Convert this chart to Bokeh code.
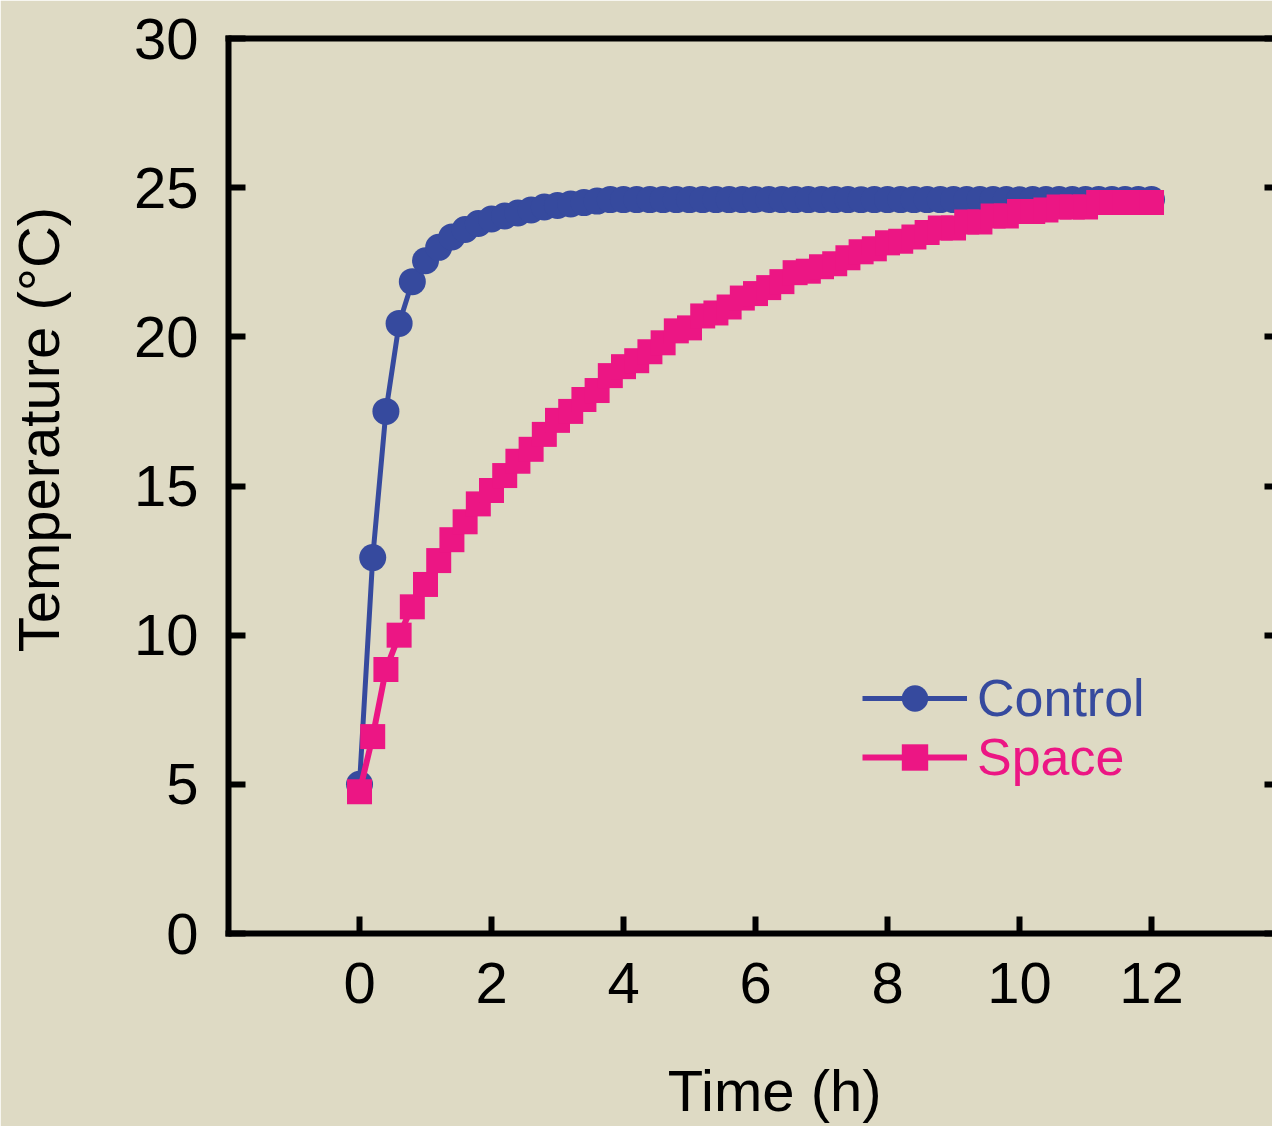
from bokeh.plotting import figure
from bokeh.models import (Range1d, LinearAxis, FixedTicker, Legend, LegendItem,
                          CustomLabelingPolicy, CustomJSTickFormatter)
from bokeh.embed import file_html
from bokeh.resources import INLINE

# ---------------- data ----------------
time_h = [0.0, 0.2, 0.4, 0.6, 0.8, 1.0, 1.2, 1.4, 1.6, 1.8,
          2.0, 2.2, 2.4, 2.6, 2.8, 3.0, 3.2, 3.4, 3.6, 3.8,
          4.0, 4.2, 4.4, 4.6, 4.8, 5.0, 5.2, 5.4, 5.6, 5.8,
          6.0, 6.2, 6.4, 6.6, 6.8, 7.0, 7.2, 7.4, 7.6, 7.8,
          8.0, 8.2, 8.4, 8.6, 8.8, 9.0, 9.2, 9.4, 9.6, 9.8,
          10.0, 10.2, 10.4, 10.6, 10.8, 11.0, 11.2, 11.4, 11.6, 11.8,
          12.0]

control_temp = [5.0, 12.6, 17.5, 20.45, 21.85, 22.55, 23.0, 23.35, 23.6, 23.8,
                23.95, 24.05, 24.15, 24.25, 24.35, 24.4, 24.45, 24.5, 24.55, 24.6,
                24.6, 24.6, 24.6, 24.6, 24.6, 24.6, 24.6, 24.6, 24.6, 24.6,
                24.6, 24.6, 24.6, 24.6, 24.6, 24.6, 24.6, 24.6, 24.6, 24.6,
                24.6, 24.6, 24.6, 24.6, 24.6, 24.6, 24.6, 24.6, 24.6, 24.6,
                24.6, 24.6, 24.6, 24.6, 24.6, 24.6, 24.6, 24.6, 24.6, 24.6,
                24.6]

space_temp = [4.75, 6.6, 8.85, 10.0, 10.95, 11.7, 12.5, 13.2, 13.8, 14.4,
              14.85, 15.35, 15.83, 16.23, 16.73, 17.2, 17.5, 17.9, 18.2, 18.7,
              19.0, 19.2, 19.5, 19.8, 20.2, 20.3, 20.7, 20.8, 21.0, 21.3,
              21.45, 21.65, 21.85, 22.15, 22.2, 22.35, 22.45, 22.65, 22.85, 22.95,
              23.15, 23.2, 23.35, 23.5, 23.65, 23.65, 23.85, 23.85, 24.05, 24.05,
              24.2, 24.2, 24.25, 24.35, 24.35, 24.35, 24.5, 24.5, 24.5, 24.5,
              24.5]

x_ticks = [0, 2, 4, 6, 8, 10, 12]
y_ticks = [0, 5, 10, 15, 20, 25, 30]

series_names = ["Control", "Space"]

# ---------------- style ----------------
BG = "#DEDAC4"
BLUE = "#364A9E"
PINK = "#EC1684"
FONT = "Liberation Sans"
NB = "\u00a0"

p = figure(width=1272, height=1126,
           x_range=Range1d(-1.985, 13.833), y_range=Range1d(0, 30),
           output_backend="svg", toolbar_location=None,
           min_border_left=228, min_border_top=38,
           min_border_bottom=193, min_border_right=0,
           background_fill_color=BG, border_fill_color=BG,
           outline_line_color=None)
p.grid.visible = False

def style_axis(ax, ticks):
    ax.ticker = FixedTicker(ticks=ticks)
    ax.axis_line_width = 6
    ax.axis_line_color = "black"
    ax.axis_line_cap = "square"
    ax.major_tick_line_width = 6
    ax.major_tick_line_color = "black"
    ax.major_tick_in = 17
    ax.major_tick_out = 0
    ax.minor_tick_in = 0
    ax.minor_tick_out = 0
    ax.major_label_text_font = FONT
    ax.major_label_text_font_size = "58px"
    ax.major_label_text_color = "black"
    ax.axis_label_text_font = FONT
    ax.axis_label_text_font_size = "58px"
    ax.axis_label_text_font_style = "normal"
    ax.axis_label_text_color = "black"

xa = p.xaxis[0]
style_axis(xa, x_ticks)
xa.axis_label = NB * 3 + "Time (h)"
xa.major_label_standoff = 29
xa.axis_label_standoff = 52

ya = p.yaxis[0]
style_axis(ya, y_ticks)
ya.axis_label = NB * 7 + "Temperature (°C)"
ya.major_label_standoff = 30
ya.axis_label_standoff = 60

top_ax = LinearAxis(ticker=FixedTicker(ticks=[]), axis_line_width=6,
                    axis_line_color="black", axis_line_cap="square",
                    major_tick_in=0, major_tick_out=0,
                    minor_tick_in=0, minor_tick_out=0)
p.add_layout(top_ax, "above")

# right-hand frame side: tick marks only, no labels
no_labels = CustomLabelingPolicy(code="""
    for (const i of indices)
        indices.unset(i)
    return indices
""")
right_ax = LinearAxis(ticker=FixedTicker(ticks=y_ticks), axis_line_color=None,
                      formatter=CustomJSTickFormatter(code="return ''"),
                      major_tick_in=8, major_tick_out=0,
                      major_tick_line_width=6, major_tick_line_color="black",
                      minor_tick_in=0, minor_tick_out=0,
                      major_label_policy=no_labels, major_label_standoff=0)
p.add_layout(right_ax, "right")

# ---------------- series ----------------
bl = p.line(time_h, control_temp, line_color=BLUE, line_width=5)
bs = p.scatter(time_h, control_temp, marker="circle", size=27,
               fill_color=BLUE, line_color=BLUE, line_width=0)
pl = p.line(time_h, space_temp, line_color=PINK, line_width=6)
ps = p.scatter(time_h, space_temp, marker="square", size=25,
               fill_color=PINK, line_color=PINK, line_width=0)

def make_legend(name, renderers, color, loc):
    return Legend(items=[LegendItem(label=name, renderers=renderers)],
                  location=loc, glyph_width=105, glyph_height=66,
                  label_text_font=FONT, label_text_font_size="52px",
                  label_text_color=color, label_standoff=10,
                  padding=0, margin=0, spacing=0,
                  background_fill_alpha=0, border_line_color=None)

p.add_layout(make_legend(series_names[0], [bl, bs], BLUE, (634, 202)))
p.add_layout(make_legend(series_names[1], [pl, ps], PINK, (634, 143)))

open("out.html", "w").write(file_html(p, INLINE))
